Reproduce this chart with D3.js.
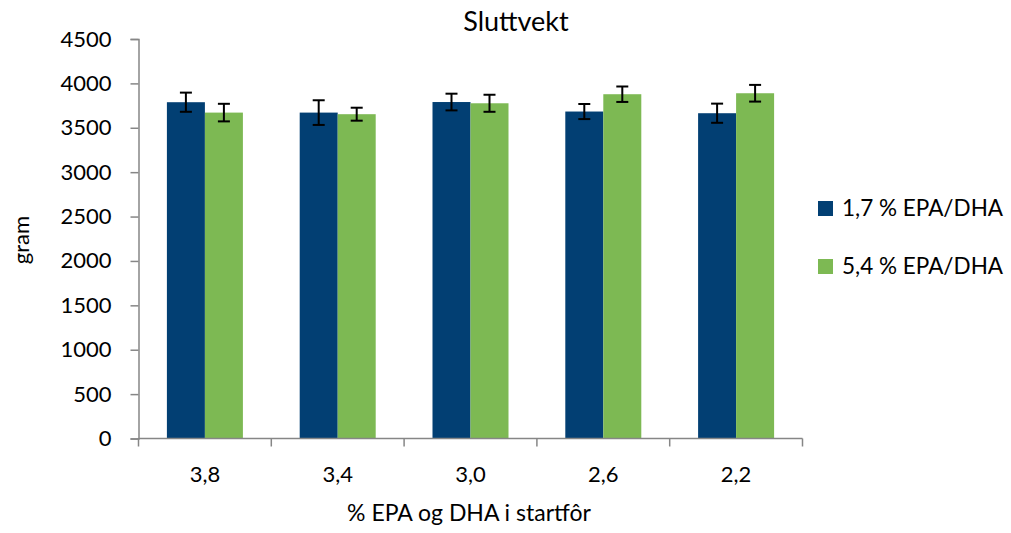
<!DOCTYPE html>
<html><head><meta charset="utf-8">
<script src="https://cdn.jsdelivr.net/npm/d3@7"></script>
<style>body{margin:0;background:#fff}svg{display:block}text{font-family:Lato,"Open Sans",sans-serif;fill:#000}</style>
</head><body>
<svg id="c" width="1011" height="533"></svg>
<script>
const categories = ["3,8","3,4","3,0","2,6","2,2"];
const seriesNames = ["1,7 % EPA/DHA","5,4 % EPA/DHA"];
const lowValues = [3788,3671,3790,3683,3664];
const lowErrors = [108,139,94,85,108];
const highValues = [3671,3653,3776,3878,3889];
const highErrors = [99,73,96,87,94];
const yTicks = [0,500,1000,1500,2000,2500,3000,3500,4000,4500];
const colors = ["#023F73","#7DB953"];

const svg = d3.select("#c");
const m = {l:138.5, r:802.5, t:39, b:438.5};
const x = d3.scaleBand().domain(categories).range([m.l,m.r]).padding(0);
const x1 = d3.scaleBand().domain([0,1]).range([0,76]);
const y = d3.scaleLinear().domain([0,4500]).range([m.b,m.t]);

const series = [
  {vals:lowValues, errs:lowErrors},
  {vals:highValues, errs:highErrors}
];

// bars
series.forEach((s,si)=>{
  const g = svg.append("g");
  g.selectAll("rect").data(categories).join("rect")
    .attr("x",(c)=>x(c)+(x.bandwidth()-76)/2+x1(si))
    .attr("width",x1.bandwidth())
    .attr("y",(c,i)=>y(s.vals[i]))
    .attr("height",(c,i)=>y(0)-y(s.vals[i]))
    .attr("fill",colors[si]);
});
// error bars
series.forEach((s,si)=>{
  const g = svg.append("g").attr("stroke","#000").attr("stroke-width",2);
  categories.forEach((c,i)=>{
    const cx = x(c)+(x.bandwidth()-76)/2+x1(si)+x1.bandwidth()/2;
    const yt = y(s.vals[i]+s.errs[i]), yb = y(s.vals[i]-s.errs[i]);
    g.append("line").attr("x1",cx).attr("x2",cx).attr("y1",yt).attr("y2",yb);
    g.append("line").attr("x1",cx-6).attr("x2",cx+6).attr("y1",yt).attr("y2",yt);
    g.append("line").attr("x1",cx-6).attr("x2",cx+6).attr("y1",yb).attr("y2",yb);
  });
});

// y axis
const ya = svg.append("g").attr("transform",`translate(${m.l},0)`)
  .call(d3.axisLeft(y).tickValues(yTicks).tickSize(8).tickSizeOuter(8).tickPadding(19).tickFormat(d3.format("d")));
ya.select(".domain").attr("stroke","#868686").attr("stroke-width",1.5);
ya.selectAll(".tick line").attr("stroke","#868686").attr("stroke-width",1.5);
ya.selectAll("text").style("font-size","22px").attr("font-family",null);

// x axis
const xt = d3.scaleLinear().domain([0,5]).range([m.l,m.r]);
const xa = svg.append("g").attr("transform",`translate(0,${m.b})`);
xa.append("line").attr("x1",m.l).attr("x2",m.r).attr("stroke","#868686").attr("stroke-width",1.5);
xa.selectAll("line.t").data(d3.range(6)).join("line").attr("class","t")
  .attr("x1",d=>xt(d)).attr("x2",d=>xt(d)).attr("y1",0).attr("y2",8)
  .attr("stroke","#868686").attr("stroke-width",1.5);
xa.selectAll("text").data(categories).join("text")
  .attr("x",d=>x(d)+x.bandwidth()/2).attr("y",43)
  .attr("text-anchor","middle").style("font-size","22px").text(d=>d);

// titles
svg.append("text").attr("x",516).attr("y",31).attr("text-anchor","middle").style("font-size","27px").text("Sluttvekt");
svg.append("text").attr("x",469).attr("y",521).attr("text-anchor","middle").style("font-size","23px").text("% EPA og DHA i startfôr");
svg.append("text").attr("transform","translate(29,240) rotate(-90)").attr("text-anchor","middle").style("font-size","22px").text("gram");

// legend
const lg = svg.append("g");
seriesNames.forEach((n,i)=>{
  const yy = 201 + i*58;
  lg.append("rect").attr("x",818).attr("y",yy).attr("width",15).attr("height",15).attr("fill",colors[i]);
  lg.append("text").attr("x",842).attr("y",yy+15).style("font-size","22.5px").text(n);
});
</script>
</body></html>
